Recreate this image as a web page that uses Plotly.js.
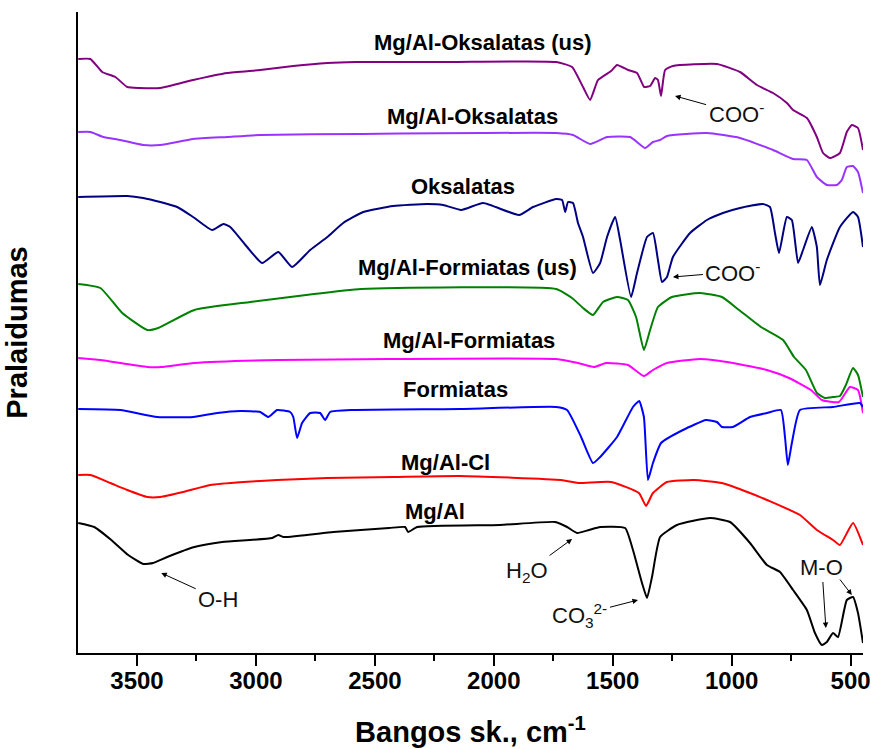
<!DOCTYPE html>
<html>
<head>
<meta charset="utf-8">
<script src="https://cdn.plot.ly/plotly-3.0.1.min.js"></script>
<style>html,body{margin:0;padding:0;background:#fff;}#chart{width:871px;height:749px;}</style>
</head>
<body>
<div id="chart"></div>
<script>
// Wavenumber (cm-1) and relative transmittance (arbitrary, offset)
const oksUsX = [3747,3696,3646,3591,3541,3490,3402,3264,3121,2982,2843,2700,2579,2184,1738,1671,1625,1595,1562,1507,1482,1436,1398,1368,1343,1322,1310,1297,1280,1247,1062,965,894,826,768,742,684,642,616,587,545,516,495,469,448];
const oksUsY = [594,594,581,576,566,565,565,573,580,583,587,590,591,591,591,586,566,553,573,582,588,583,580,566,567,575,573,557,583,587,589,581,568,560,550,543,535,516,500,495,500,521,528,525,503];

const mgalOksX = [3747,3696,3642,3570,3474,3402,3264,3121,2982,2562,1738,1667,1595,1524,1427,1364,1331,1301,1272,1104,965,826,742,684,642,600,558,537,516,490,469,448];
const mgalOksY = [521,521,516,513,508,508,514,516,518,519,520,518,509,516,516,505,511,513,517,520,515,503,494,493,476,468,468,473,486,487,481,460];

const oksX = [3747,3541,3474,3402,3331,3264,3184,3137,3108,3037,2974,2906,2848,2772,2700,2633,2549,2423,2280,2213,2137,2045,1894,1835,1738,1713,1700,1688,1667,1646,1625,1583,1553,1524,1490,1469,1423,1398,1356,1331,1310,1293,1272,1247,1175,1104,1037,965,869,839,818,801,768,747,721,700,663,642,629,600,545,490,469,448];
const oksY = [456,457,455,451,446,436,423,429,426,406,390,401,386,403,416,430,441,447,449,448,443,450,438,446,454,453,441,451,450,430,416,380,390,416,436,413,356,380,416,420,393,371,376,396,420,433,440,445,449,446,420,400,436,433,390,403,426,406,368,393,426,441,436,406];

const forUsX = [3747,3654,3562,3457,3411,3259,3024,2789,2558,1738,1671,1625,1583,1541,1482,1436,1402,1369,1343,1310,1251,1133,1041,969,877,784,738,688,642,608,574,545,520,490,469,448];
const forUsY = [369,365,340,323,325,343,351,358,364,364,355,345,338,351,356,353,336,303,323,346,356,360,356,343,326,313,296,283,260,255,256,257,268,285,278,256];

const mgalForX = [3747,3654,3457,3398,3259,2906,2440,1738,1646,1579,1528,1436,1369,1331,1272,1133,995,852,759,667,621,549,503,469,448];
const mgalForY = [295,293,286,286,290,293,294,294,290,286,290,288,277,283,290,294,290,283,275,263,253,251,266,263,240];

const forX = [3747,3570,3415,3264,3163,3066,2982,2948,2911,2856,2843,2827,2806,2772,2730,2709,2688,2591,2142,1738,1692,1633,1583,1553,1482,1415,1389,1369,1352,1331,1297,1205,1108,1062,1041,995,923,852,793,776,764,747,713,574,461,448];
const forY = [244,243,236,236,240,242,241,236,243,241,236,215,230,240,240,233,241,243,244,246,243,216,190,196,216,246,252,236,173,190,210,223,233,231,226,226,236,240,243,216,188,210,243,246,250,246];

const mgalClX = [3747,3696,3612,3541,3457,3402,3306,3192,3053,2911,2700,2423,2142,1717,1646,1507,1390,1360,1331,1272,1158,1041,923,852,713,642,574,545,490,448];
const mgalClY = [178,178,170,163,156,156,161,168,171,173,175,176,177,173,170,171,160,147,160,171,173,170,160,153,138,123,113,108,130,108];

const mgalX = [3747,3680,3608,3537,3474,3432,3373,3259,3142,2932,2906,2885,2675,2440,2373,2360,2322,1974,1742,1692,1650,1600,1553,1448,1415,1377,1356,1335,1301,1230,1091,1007,923,852,797,742,684,650,621,600,574,553,516,490,469,448];
const mgalY = [130,126,113,98,89,90,96,106,111,115,118,116,121,125,126,121,126,128,131,126,120,123,126,125,103,70,55,76,116,128,135,131,110,88,81,63,43,20,8,11,20,16,53,56,40,10];

const seriesNames = ['Mg/Al-Oksalatas (us)','Mg/Al-Oksalatas','Oksalatas','Mg/Al-Formiatas (us)','Mg/Al-Formiatas','Formiatas','Mg/Al-Cl','Mg/Al'];
const seriesColors = ['#800080','#9933ff','#000080','#008000','#ff00ff','#0000ff','#ff0000','#000000'];
const seriesX = [oksUsX, mgalOksX, oksX, forUsX, mgalForX, forX, mgalClX, mgalX];
const seriesY = [oksUsY, mgalOksY, oksY, forUsY, mgalForY, forY, mgalClY, mgalY];
const tickVals = [3500,3000,2500,2000,1500,1000,500];

const traces = seriesNames.map((n,i)=>({
  type:'scatter', mode:'lines', name:n, x:seriesX[i], y:seriesY[i],
  line:{color:seriesColors[i], width:2, shape:'spline', smoothing:0.45}, hoverinfo:'skip'
}));

const FONT = 'Liberation Sans, Arial, sans-serif';
// label positions (x in cm-1, y in plot units)
const labelPos = [[2045,611],[2091,537],[2129,467],[2112,386],[2104,313],[2163,264],[2205,191],[2247,142]];
const annotations = seriesNames.map((n,i)=>({
  x:labelPos[i][0], y:labelPos[i][1], xref:'x', yref:'y', text:n, showarrow:false,
  font:{family:FONT, size:22, weight:'bold', color:'#000'}
}));

const aFont = {family:FONT, size:22, color:'#111'};
function note(x,y,ax,ay,t){
  return {x:x,y:y,xref:'x',yref:'y',ax:ax,ay:ay,text:t,showarrow:true,arrowhead:2,arrowsize:1.1,arrowwidth:1,arrowcolor:'#000',font:aFont,borderpad:2};
}
annotations.push(
  note(1238,557,61,17,'COO<sup>-</sup>'),
  note(1247,376,60,-5,'COO<sup>-</sup>'),
  note(1671,114,-45,33,'H<sub>2</sub>O'),
  note(3398,80,57,26,'O-H'),
  note(1394,53,-58,15,'CO<sub>3</sub><sup>2-</sup>'),
  note(604,25,-4,-61,'M-O'),
  {x:495,y:58,xref:'x',yref:'y',ax:-13,ay:-17,text:'',showarrow:true,arrowhead:2,arrowsize:1.1,arrowwidth:1,arrowcolor:'#000'}
);

const layout = {
  width:871, height:749,
  margin:{l:78, r:8, t:12, b:96},
  paper_bgcolor:'#fff', plot_bgcolor:'#fff',
  showlegend:false,
  xaxis:{
    range:[3748,448], tickmode:'array', tickvals:tickVals,
    showgrid:false, zeroline:false, showline:true, linecolor:'#000', linewidth:2,
    ticks:'outside', ticklen:11, tickwidth:2, tickcolor:'#000', ticklabelstandoff:-6,
    tickfont:{family:FONT, size:24, weight:'bold', color:'#000'},
    minor:{tickmode:'linear', tick0:250, dtick:500, ticks:'outside', ticklen:6, tickwidth:2, tickcolor:'#000', showgrid:false},
    title:{text:'Bangos sk., cm<sup>-1</sup>', font:{family:FONT, size:29, weight:'bold', color:'#000'}, standoff:29}
  },
  yaxis:{
    range:[0,641], showgrid:false, zeroline:false, showline:true, linecolor:'#000', linewidth:2,
    ticks:'', showticklabels:false,
    title:{text:'Pralaidumas', font:{family:FONT, size:29, weight:'bold', color:'#000'}, standoff:40}
  },
  annotations:annotations
};

Plotly.newPlot('chart', traces, layout, {displayModeBar:false, staticPlot:true});
</script>
</body>
</html>
